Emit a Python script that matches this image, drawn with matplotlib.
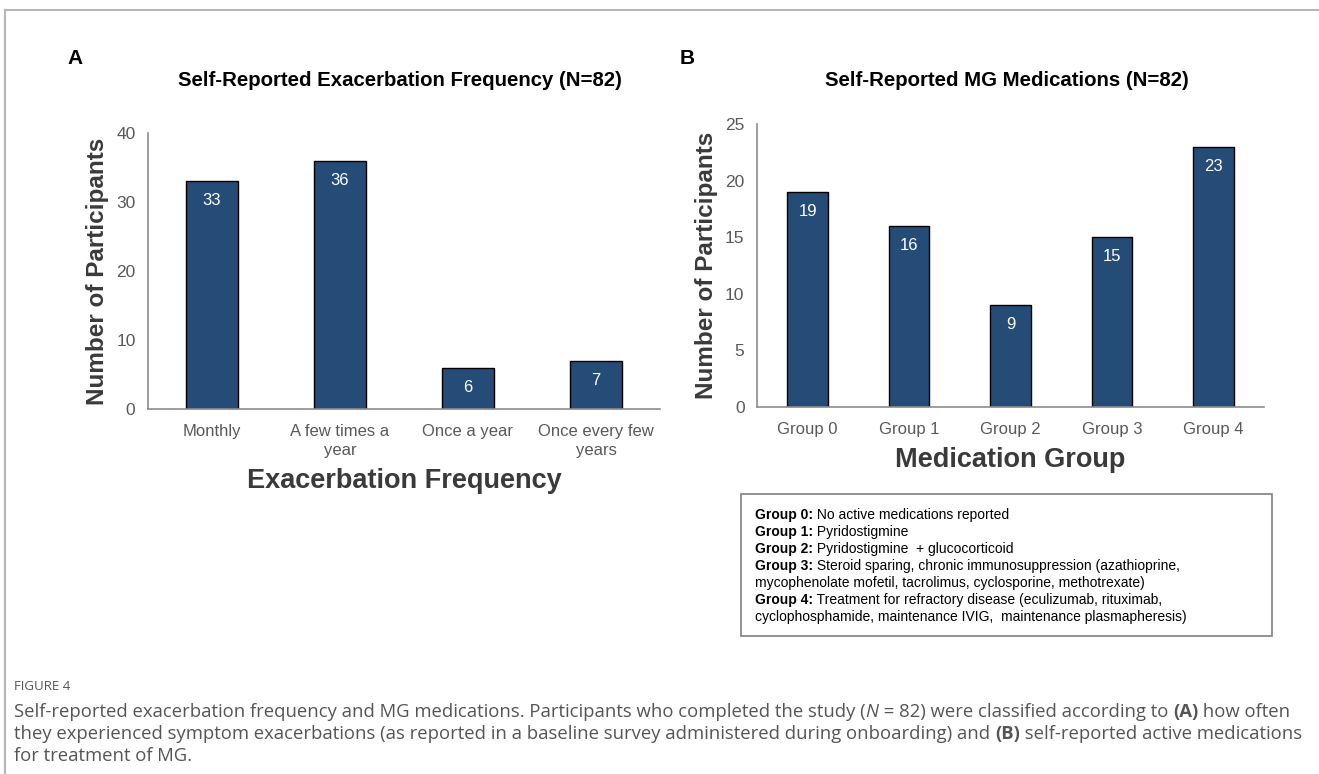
import numpy as np
import matplotlib.pyplot as plt
from matplotlib.lines import Line2D

# Данные: панель A
freq_labels = ["Monthly", "A few times a\nyear", "Once a year", "Once every few\nyears"]
freq_counts = [33, 36, 6, 7]

# Данные: панель B
group_labels = ["Group 0", "Group 1", "Group 2", "Group 3", "Group 4"]
group_counts = [19, 16, 9, 15, 23]

legend_rows = [
    [("Group 0:", "bold"), (" No active medications reported", "normal")],
    [("Group 1:", "bold"), (" Pyridostigmine", "normal")],
    [("Group 2:", "bold"), (" Pyridostigmine  + glucocorticoid", "normal")],
    [("Group 3:", "bold"), (" Steroid sparing, chronic immunosuppression (azathioprine,", "normal")],
    [("mycophenolate mofetil, tacrolimus, cyclosporine, methotrexate)", "normal")],
    [("Group 4:", "bold"), (" Treatment for refractory disease (eculizumab, rituximab,", "normal")],
    [("cyclophosphamide, maintenance IVIG,  maintenance plasmapheresis)", "normal")],
]

caption_rows = [
    [("Self-reported exacerbation frequency and MG medications. Participants who completed the study (", "normal", "normal"),
     ("N", "normal", "italic"), (" = 82) were classified according to ", "normal", "normal"),
     ("(A)", "bold", "normal"), (" how often", "normal", "normal")],
    [("they experienced symptom exacerbations (as reported in a baseline survey administered during onboarding) and ", "normal", "normal"),
     ("(B)", "bold", "normal"), (" self-reported active medications", "normal", "normal")],
    [("for treatment of MG.", "normal", "normal")],
]

BAR_COLOR = "#244c77"
AXIS_COLOR = "#8c8c8c"
TICK_COLOR = "#595959"
ARIAL = ["Liberation Sans", "DejaVu Sans"]
CAPTION = ["Open Sans", "DejaVu Sans"]

W, H = 1319, 774
fig = plt.figure(figsize=(W / 100, H / 100), dpi=100)


def px(x, y):
    """Пиксели (от левого верхнего угла) -> доли полотна"""
    return x / W, 1 - y / H


def bar_panel(rect, labels, counts, ymax, ystep, xlabel):
    ax = fig.add_axes(rect)
    x = np.arange(len(counts))
    bars = ax.bar(x, counts, width=0.4, color=BAR_COLOR, edgecolor="black", linewidth=1)
    ax.set_xlim(-0.5, len(counts) - 0.5)
    ax.set_ylim(0, ymax)
    ax.set_yticks(np.arange(0, ymax + 1, ystep))
    ax.set_xticks(x)
    ax.set_xticklabels(labels, family=ARIAL, fontsize=12, color=TICK_COLOR, linespacing=1.35)
    for lab in ax.get_yticklabels():
        lab.set_family(ARIAL)
        lab.set_fontsize(12.5)
        lab.set_color(TICK_COLOR)
    ax.tick_params(axis="both", length=0)
    ax.tick_params(axis="y", pad=9)
    ax.tick_params(axis="x", pad=11)
    for side in ["top", "right"]:
        ax.spines[side].set_visible(False)
    for side in ["left", "bottom"]:
        ax.spines[side].set_color(AXIS_COLOR)
        ax.spines[side].set_linewidth(1.2)
    # подписи значений внутри столбцов
    for b, v in zip(bars, counts):
        ax.annotate(str(v), (b.get_x() + b.get_width() / 2, v), xytext=(0, -14),
                    textcoords="offset points", ha="center", va="center",
                    color="white", family=ARIAL, fontsize=12)
    ax.set_xlabel(xlabel, family=ARIAL, fontsize=19.5, fontweight="bold", color="#3a3a3a", labelpad=7)
    ax.set_ylabel("Number of Participants", family=ARIAL, fontsize=17.5, fontweight="bold",
                  color="#3a3a3a", labelpad=5)
    return ax


axA = bar_panel([148 / W, 1 - 409 / H, (660 - 148) / W, (409 - 133) / H],
                freq_labels, freq_counts, 40, 10, "Exacerbation Frequency")
axB = bar_panel([757 / W, 1 - 407 / H, (1264 - 757) / W, (407 - 124) / H],
                group_labels, group_counts, 25, 5, "Medication Group")

# заголовки и буквы панелей
fig.text(*px(400, 80), "Self-Reported Exacerbation Frequency (N=82)", ha="center", va="center",
         family=ARIAL, fontsize=14.7, fontweight="bold", color="black")
fig.text(*px(1007, 80), "Self-Reported MG Medications (N=82)", ha="center", va="center",
         family=ARIAL, fontsize=14.7, fontweight="bold", color="black")
fig.text(*px(67, 59), "A", ha="left", va="center", family=ARIAL, fontsize=15, fontweight="bold")
fig.text(*px(680, 59), "B", ha="left", va="center", family=ARIAL, fontsize=15, fontweight="bold")

# рамка рисунка (верх и левый край)
fig.add_artist(Line2D([5 / W, 1], [1 - 10 / H, 1 - 10 / H], transform=fig.transFigure,
                      color="#b5b5b5", linewidth=1.5))
fig.add_artist(Line2D([5 / W, 5 / W], [0, 1 - 10 / H], transform=fig.transFigure,
                      color="#b5b5b5", linewidth=1.5))

renderer = fig.canvas.get_renderer()


def rich_line(x, y, runs, **kw):
    """Строка из нескольких фрагментов с разным начертанием"""
    for run in runs:
        s, weight = run[0], run[1]
        style = run[2] if len(run) > 2 else "normal"
        t = fig.text(*px(x, y), s, ha="left", va="center", fontweight=weight, fontstyle=style, **kw)
        x += t.get_window_extent(renderer).width


# пояснения к группам препаратов
fig.add_artist(plt.Rectangle((741 / W, 1 - 636 / H), (1272 - 741) / W, (636 - 494) / H,
                             transform=fig.transFigure, fill=False, edgecolor="#7f7f7f", linewidth=1.2))
for i, row in enumerate(legend_rows):
    rich_line(755, 515 + i * 17, row, family=ARIAL, fontsize=10, color="black")

# подпись к рисунку
fig.text(*px(14, 686), "FIGURE 4", ha="left", va="center", family=CAPTION, fontsize=9.5, color="#555555")
for i, row in enumerate(caption_rows):
    rich_line(14, 712 + i * 22, row, family=CAPTION, fontsize=13.3, color="#555555")

fig.savefig("out.png", dpi=100)
